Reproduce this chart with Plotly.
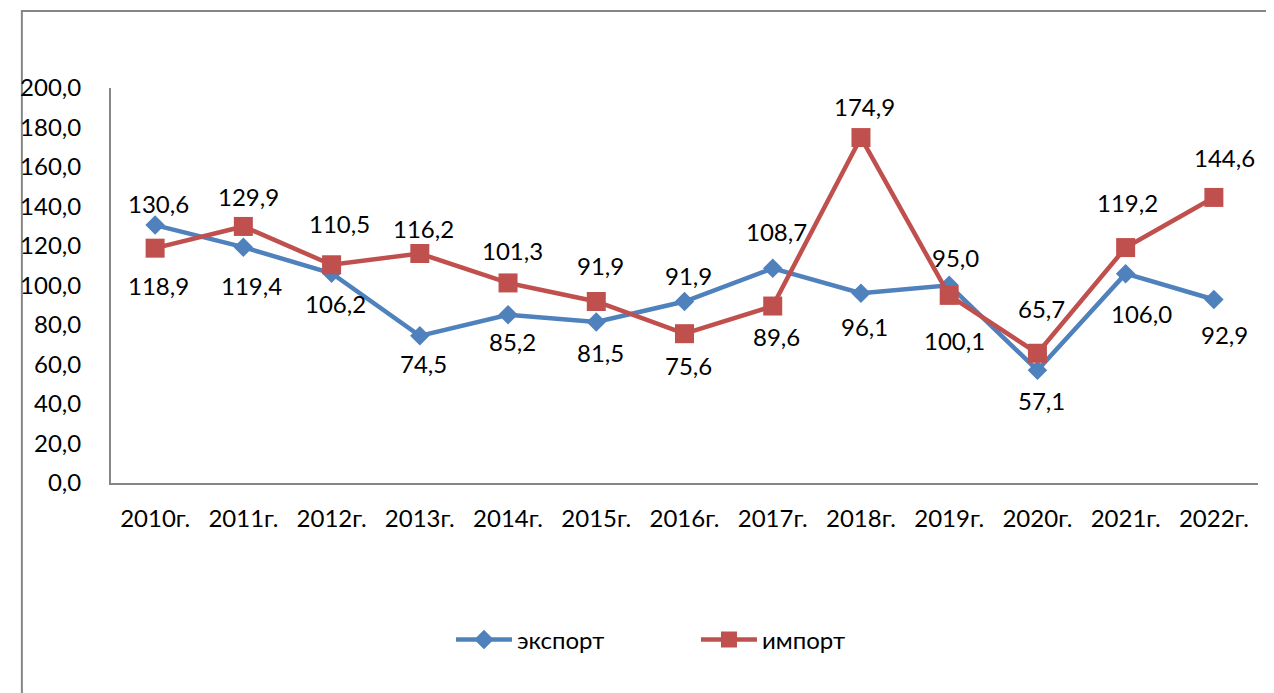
import plotly.graph_objs as go

# data
years = ["2010г.", "2011г.", "2012г.", "2013г.", "2014г.", "2015г.", "2016г.",
         "2017г.", "2018г.", "2019г.", "2020г.", "2021г.", "2022г."]
export_vals = [130.6, 119.4, 106.2, 74.5, 85.2, 81.5, 91.9, 108.7, 96.1, 100.1, 57.1, 106.0, 92.9]
import_vals = [118.9, 129.9, 110.5, 116.2, 101.3, 91.9, 75.6, 89.6, 174.9, 95.0, 65.7, 119.2, 144.6]

# label offsets in px (as placed in the original)
export_dy = [22, -38, -30, -28, -27, -30, 26, 37, -33, -55, -30, -40, -35]
export_dx = [3, 8, 4, 4, 4, 4, 4, 4, 4, 5, 4, 16, 11]
import_dy = [-37, 30, 41, 25, 32, 36, -32, -30, 31, 38, 45, 45, 40]
import_dx = [3, 5, 8, 4, 4, 4, 4, 4, 4, 6, 4, 2, 11]

BLUE = "#4F81BD"
RED = "#C0504D"
FONT = "Lato"
FS = 24

def fmt(v):
    return f"{v:.1f}".replace(".", ",")

trace_exp = go.Scatter(
    x=years, y=export_vals, mode="lines+markers", name="экспорт",
    line=dict(color=BLUE, width=4.5),
    marker=dict(symbol="diamond", size=15, color=BLUE),
)
trace_imp = go.Scatter(
    x=years, y=import_vals, mode="lines+markers", name="импорт",
    line=dict(color=RED, width=4.5),
    marker=dict(symbol="square", size=19, color=RED),
)

annotations = []
for vals, dy, dx in [(export_vals, export_dy, export_dx), (import_vals, import_dy, import_dx)]:
    for yr, v, sy, sx in zip(years, vals, dy, dx):
        annotations.append(dict(
            x=yr, y=v, text=fmt(v), showarrow=False,
            yshift=sy, xshift=sx,
            font=dict(family=FONT, size=FS, color="#000000"),
        ))

# page has an 8px body margin, so the figure is 8px smaller
layout = go.Layout(
    width=1266, height=685,
    margin=dict(l=92, r=16, t=80, b=210),
    paper_bgcolor="white", plot_bgcolor="white",
    font=dict(family=FONT, size=FS, color="#000000"),
    showlegend=True,
    legend=dict(
        orientation="h", x=0.51, xanchor="center", y=-0.397, yanchor="middle",
        itemwidth=56, entrywidth=174, font=dict(family=FONT, size=FS),
    ),
    xaxis=dict(
        showline=True, linecolor="#868686", linewidth=2,
        showgrid=False, ticks="", ticklabelstandoff=13,
        range=[-0.5, 12.5],
    ),
    yaxis=dict(
        range=[0, 200], dtick=20, tickformat=".1f",
        showline=True, linecolor="#868686", linewidth=2,
        showgrid=False, zeroline=False, ticks="", ticklabelstandoff=23,
    ),
    separators=", ",
    annotations=annotations,
    shapes=[dict(
        type="rect", xref="paper", yref="paper",
        x0=-0.0777, x1=1.3, y0=-1.0, y1=1.195,
        line=dict(color="#868686", width=2), layer="below",
    )],
)

fig = go.Figure(data=[trace_exp, trace_imp], layout=layout)
fig.write_html("out.html")
